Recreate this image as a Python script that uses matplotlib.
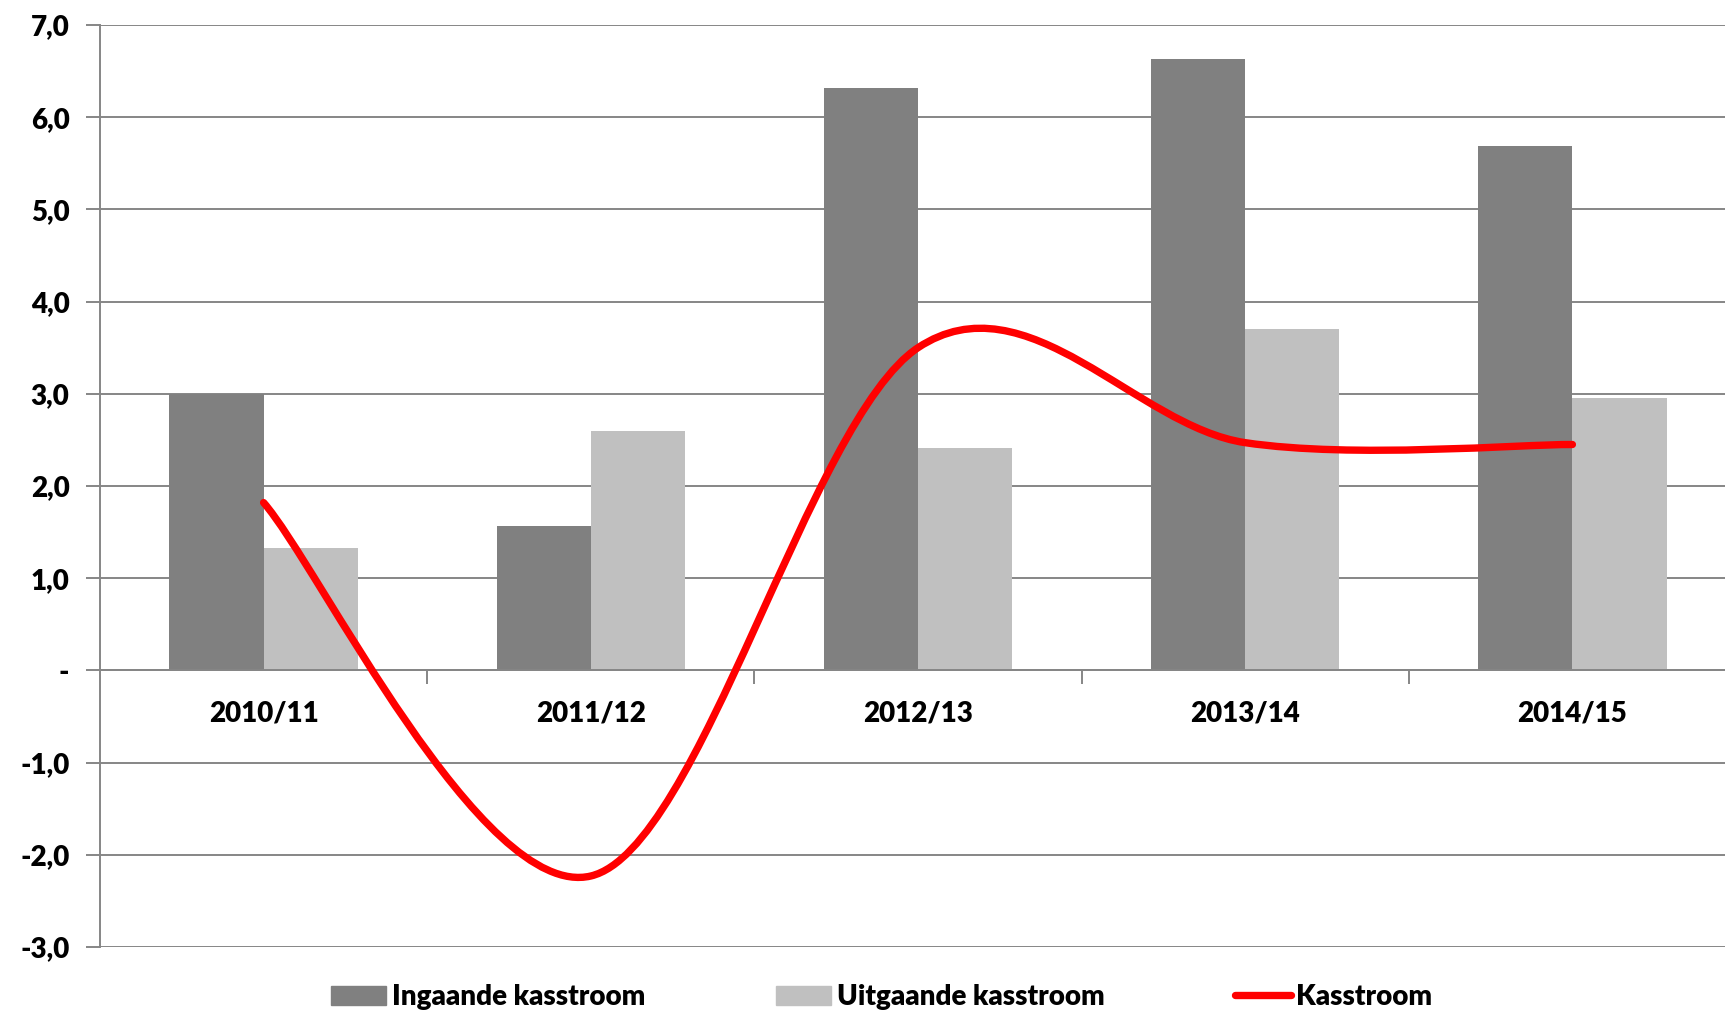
import numpy as np
import matplotlib
matplotlib.use("Agg")
import matplotlib.pyplot as plt
from matplotlib.path import Path
from matplotlib.patches import PathPatch, Patch
from matplotlib.lines import Line2D
from matplotlib.ticker import FixedLocator, FuncFormatter

plt.rcParams['font.family'] = ['Lato', 'DejaVu Sans']
plt.rcParams['font.weight'] = 'heavy'

# data
jaren = ['2010/11', '2011/12', '2012/13', '2013/14', '2014/15']
ingaand = [3.0, 1.57, 6.32, 6.63, 5.69]
uitgaand = [1.33, 2.60, 2.41, 3.70, 2.95]
kasstroom = [1.82, -2.23, 3.50, 2.47, 2.45]

grijs = '#868686'
fs = 20

fig = plt.figure(figsize=(17.25, 10.14), dpi=100)
ax = fig.add_axes([100/1725, 1-947/1014, 1636/1725, 922/1014])

x = np.arange(len(jaren))
bw = 0.2877
ax.bar(x - bw/2, ingaand, bw, color='#808080', zorder=2)
ax.bar(x + bw/2, uitgaand, bw, color='#C0C0C0', zorder=2)

# smoothed line like excel (bezier through the points)
pts = np.column_stack([x, kasstroom]).astype(float)
verts = [pts[0]]
codes = [Path.MOVETO]
n = len(pts)
for i in range(n - 1):
    p0 = pts[max(i - 1, 0)]
    p1 = pts[i]
    p2 = pts[i + 1]
    p3 = pts[min(i + 2, n - 1)]
    verts += [p1 + (p2 - p0) / 6, p2 - (p3 - p1) / 6, p2]
    codes += [Path.CURVE4] * 3
lijn = PathPatch(Path(verts, codes), facecolor='none', edgecolor='#FF0000',
                 lw=5.3, capstyle='round', joinstyle='round', zorder=3)
ax.add_patch(lijn)

ax.set_xlim(-0.5, len(jaren) - 0.5)
ax.set_ylim(-3, 7)

# y axis
ax.set_yticks(np.arange(-3, 8, 1))
ax.yaxis.set_major_formatter(FuncFormatter(
    lambda v, p: '-' if abs(v) < 1e-9 else ('%.1f' % v).replace('.', ',')))
ax.tick_params(axis='y', length=10, width=1.4, color=grijs, labelsize=fs, pad=12)
ax.yaxis.grid(True, color=grijs, lw=1.4)
ax.set_axisbelow(True)

# x axis on zero
ax.spines['bottom'].set_position(('data', 0))
ax.spines['bottom'].set_color(grijs)
ax.spines['bottom'].set_linewidth(1.4)
ax.spines['left'].set_color(grijs)
ax.spines['left'].set_linewidth(1.4)
ax.spines['top'].set_visible(False)
ax.spines['right'].set_visible(False)
ax.set_xticks(x)
ax.set_xticklabels(jaren)
ax.xaxis.set_minor_locator(FixedLocator(x[:-1] + 0.5))
ax.tick_params(axis='x', which='major', length=0, labelsize=fs, pad=22)
ax.tick_params(axis='x', which='minor', length=10, width=1.4, color=grijs)
for lab in ax.get_xticklabels() + ax.get_yticklabels():
    lab.set_fontweight('heavy')

handles = [Patch(color='#808080'), Patch(color='#C0C0C0'),
           Line2D([], [], color='#FF0000', lw=5.3, solid_capstyle='round')]
fig.legend(handles, ['Ingaande kasstroom', 'Uitgaande kasstroom', 'Kasstroom'],
           loc='center', bbox_to_anchor=(0.511, 1 - 997/1014), ncol=3, frameon=False,
           prop={'size': fs, 'weight': 'heavy'}, handlelength=2.0, handleheight=0.7,
           handletextpad=0.2, columnspacing=4.7)

fig.savefig('out.png', dpi=100)
